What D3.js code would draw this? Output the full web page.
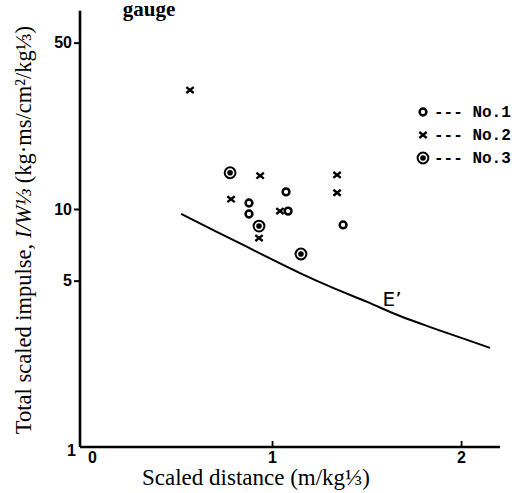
<!DOCTYPE html>
<html><head><meta charset="utf-8">
<script src="https://cdn.jsdelivr.net/npm/d3@7"></script>
<style>body{margin:0;background:#fff}svg{display:block}</style>
</head><body>
<svg id="c" width="521" height="493"></svg>
<script>
// Data
const no1X = [0.878, 0.878, 1.074, 1.085, 1.376];
const no1Y = [10.6, 9.53, 11.8, 9.8, 8.57];
const no2X = [0.566, 0.937, 0.783, 1.042, 0.931, 1.344, 1.344];
const no2Y = [31.6, 13.8, 11.0, 9.8, 7.55, 13.9, 11.7];
const no3X = [0.778, 0.931, 1.153];
const no3Y = [14.2, 8.48, 6.47];
const curveX = [0.519, 0.815, 1.148, 1.323, 1.503, 1.677, 1.852, 2.032, 2.153];
const curveY = [9.53, 7.27, 5.38, 4.66, 4.07, 3.55, 3.16, 2.82, 2.61];
const xTicks = [0, 1, 2];
const yTicks = [1, 5, 10, 50];
const legendLabels = ["No.1", "No.2", "No.3"];

const svg = d3.select("#c");
const x = d3.scaleLinear().domain([-0.016, 2.206]).range([80, 500]);
const y = d3.scaleLog().domain([1, 68]).range([447, 447 - 238 * Math.log10(68)]);

// axes
const yAxis = d3.axisLeft(y).tickValues(yTicks).tickFormat(d3.format("d")).tickSize(6).tickPadding(2);
const gy = svg.append("g").attr("transform", "translate(80,0)").call(yAxis);
gy.select(".domain").attr("d", `M0,${y(68)}V${y(1)}`).attr("stroke", "#000").attr("stroke-width", 2.6);
gy.selectAll(".tick line").attr("stroke", "#000").attr("stroke-width", 2);
gy.selectAll(".tick text").attr("font-family", "Liberation Sans, Arial, sans-serif")
  .attr("font-weight", "bold").attr("font-size", 16).attr("fill", "#000");
gy.selectAll(".tick").filter(d => d === 1).select("line").remove();
gy.selectAll(".tick").filter(d => d === 1).select("text").attr("dy", "0.55em").attr("x", -4);

const xAxis = d3.axisBottom(x).tickValues(xTicks).tickFormat(d3.format("d")).tickSize(-6).tickPadding(4);
const gx = svg.append("g").attr("transform", "translate(0,447)").call(xAxis);
gx.select(".domain").attr("d", `M${x(-0.016)},0H${x(2.206)}`).attr("stroke", "#000").attr("stroke-width", 2.6);
gx.selectAll(".tick line").attr("stroke", "#000").attr("stroke-width", 1.8);
gx.selectAll(".tick text").attr("font-family", "Liberation Sans, Arial, sans-serif")
  .attr("font-weight", "bold").attr("font-size", 16).attr("fill", "#000").attr("y", 5);
gx.selectAll(".tick").filter(d => d === 0).select("line").remove();
gx.selectAll(".tick").filter(d => d === 0).select("text").attr("x", 9);

// curve E'
const curve = curveX.map((d, i) => [d, curveY[i]]);
svg.append("path").datum(curve)
  .attr("d", d3.line().x(d => x(d[0])).y(d => y(d[1])).curve(d3.curveCatmullRom))
  .attr("fill", "none").attr("stroke", "#000").attr("stroke-width", 2);
svg.append("text").attr("x", x(1.585)).attr("y", y(3.88) - 1)
  .attr("font-family", "DejaVu Sans, sans-serif").attr("font-size", 20).text("E’");

// markers
function drawCircle(g, cx, cy) {
  g.append("circle").attr("cx", cx).attr("cy", cy).attr("r", 3.4)
    .attr("fill", "none").attr("stroke", "#000").attr("stroke-width", 2.5);
}
function drawCross(g, cx, cy) {
  const s = 3.7;
  g.append("path").attr("d", `M${cx - s},${cy - s * 0.8}L${cx + s},${cy + s * 0.8}M${cx - s},${cy + s * 0.8}L${cx + s},${cy - s * 0.8}`)
    .attr("stroke", "#000").attr("stroke-width", 2.4).attr("fill", "none");
}
function drawDot(g, cx, cy) {
  g.append("circle").attr("cx", cx).attr("cy", cy).attr("r", 5.4)
    .attr("fill", "none").attr("stroke", "#000").attr("stroke-width", 2);
  g.append("circle").attr("cx", cx).attr("cy", cy).attr("r", 2.8).attr("fill", "#000");
}
const pts = svg.append("g");
no1X.forEach((d, i) => drawCircle(pts, x(d), y(no1Y[i])));
no2X.forEach((d, i) => drawCross(pts, x(d), y(no2Y[i])));
no3X.forEach((d, i) => drawDot(pts, x(d), y(no3Y[i])));

// legend
const lg = svg.append("g");
const drawers = [drawCircle, drawCross, drawDot];
legendLabels.forEach((t, i) => {
  const ly = 112 + i * 23;
  drawers[i](lg, 423, ly);
  lg.append("text").attr("x", 434).attr("y", ly + 5)
    .attr("font-family", "Liberation Mono, DejaVu Sans Mono, monospace").attr("font-weight", "bold")
    .attr("font-size", 16).text("--- " + t);
});

// titles
svg.append("text").attr("x", 149).attr("y", 16).attr("text-anchor", "middle")
  .attr("font-family", "Liberation Serif, Times New Roman, serif").attr("font-weight", "bold")
  .attr("font-size", 21).text("gauge");

svg.append("text").attr("x", 256).attr("y", 485).attr("text-anchor", "middle")
  .attr("font-family", "Liberation Serif, Times New Roman, serif").attr("font-size", 23)
  .text("Scaled distance (m/kg⅓)");

const yl = svg.append("text").attr("transform", "translate(31,230) rotate(-90)").attr("text-anchor", "middle")
  .attr("font-family", "Liberation Serif, Times New Roman, serif").attr("font-size", 22.5);
yl.append("tspan").text("Total scaled impulse, ");
yl.append("tspan").attr("font-style", "italic").text("I/W⅓");
yl.append("tspan").text(" (kg·ms/cm²/kg⅓)");
</script>
</body></html>
